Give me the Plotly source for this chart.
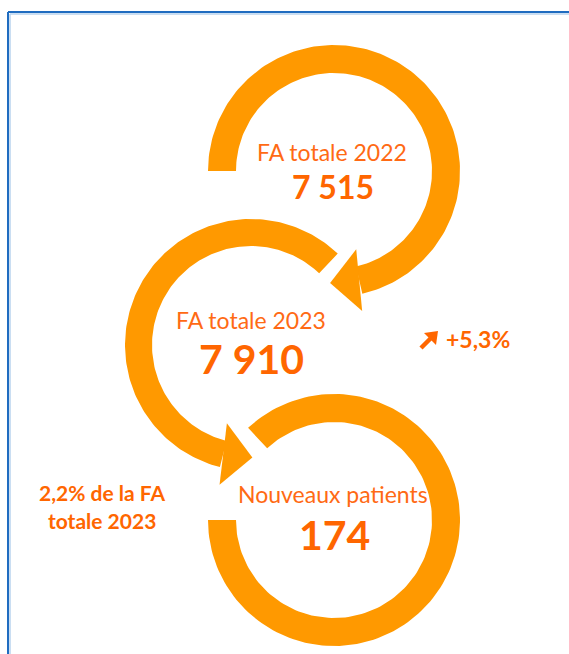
import numpy as np
import plotly.graph_objects as go

# ---- data ----
stage_labels = ["FA totale 2022", "FA totale 2023", "Nouveaux patients"]
stage_values = [7515, 7910, 174]
growth_label = "+5,3%"
share_label = ["2,2% de la FA", "totale 2023"]

ORANGE = "#FF9900"
TEXT = "#FF6A14"
TEXT_B = "#FF6600"
FONT = "Lato"

W, H = 569, 654


def fmt(v):
    return f"{v:,}".replace(",", " ")


def arc(cx, cy, r, a0, a1, n=160):
    t = np.radians(np.linspace(a0, a1, n))
    return cx + r * np.cos(t), cy + r * np.sin(t)


def ring_body(cx, cy, ro, ri, a0, a1):
    xo, yo = arc(cx, cy, ro, a0, a1)
    xi, yi = arc(cx, cy, ri, a1, a0)
    x = np.concatenate([xo, xi, xo[:1]])
    y = np.concatenate([yo, yi, yo[:1]])
    return x, y


def arrow_head(cx, cy, rm, ab, at, half):
    bx = cx + rm * np.cos(np.radians(ab))
    by = cy + rm * np.sin(np.radians(ab))
    tx = cx + rm * np.cos(np.radians(at))
    ty = cy + rm * np.sin(np.radians(at))
    dx, dy = tx - bx, ty - by
    L = np.hypot(dx, dy)
    px, py = -dy / L, dx / L
    x = [bx + half * px, tx, bx - half * px, bx + half * px]
    y = [by + half * py, ty, by - half * py, by + half * py]
    return x, y


# ring geometry (center x, center y, outer r, inner r, start angle, end angle, tip angle)
rings = [
    (334, 171, 126, 98, 180, 437, 452),
    (251, 345, 126, 99, -46.5, -255.7, -270.7),
    (334, 520, 126, 98, -133, 180, None),
]

fig = go.Figure()
for cx, cy, ro, ri, a0, a1, at in rings:
    x, y = ring_body(cx, cy, ro, ri, a0, a1)
    fig.add_trace(go.Scatter(x=x, y=y, fill="toself", fillcolor=ORANGE,
                             mode="lines", line=dict(width=0, color=ORANGE),
                             hoverinfo="skip", showlegend=False))
    if at is not None:
        rm = (ro + ri) / 2
        hx, hy = arrow_head(cx, cy, rm, a1, at, 31)
        fig.add_trace(go.Scatter(x=hx, y=hy, fill="toself", fillcolor=ORANGE,
                                 mode="lines", line=dict(width=0, color=ORANGE),
                                 hoverinfo="skip", showlegend=False))

# small "up" arrow icon next to the growth label
fig.add_trace(go.Scatter(x=[421, 432], y=[348, 337], mode="lines",
                         line=dict(color=TEXT_B, width=4.5),
                         hoverinfo="skip", showlegend=False))
fig.add_trace(go.Scatter(x=[438, 424, 436, 438], y=[331, 333, 345, 331], fill="toself",
                         fillcolor=TEXT_B, mode="lines", line=dict(width=0, color=TEXT_B),
                         hoverinfo="skip", showlegend=False))

ann = []
title_pos = [(332, 152), (251, 320), (333, 494)]
value_pos = [(333, 186), (251, 358), (334, 534)]
value_size = [32, 41, 41]
for lab, val, tp, vp, vs in zip(stage_labels, stage_values, title_pos, value_pos, value_size):
    ann.append(dict(x=tp[0], y=tp[1], text=lab, showarrow=False,
                    font=dict(family=FONT, size=23, color=TEXT),
                    xanchor="center", yanchor="middle"))
    ann.append(dict(x=vp[0], y=vp[1], text=f"<b>{fmt(val)}</b>", showarrow=False,
                    font=dict(family=FONT, size=vs, color=TEXT_B),
                    xanchor="center", yanchor="middle"))

ann.append(dict(x=478, y=339, text=f"<b>{growth_label}</b>", showarrow=False,
                font=dict(family=FONT, size=23, color=TEXT_B),
                xanchor="center", yanchor="middle"))
ann.append(dict(x=102, y=492, text=f"<b>{share_label[0]}</b>", showarrow=False,
                font=dict(family=FONT, size=21, color=TEXT_B),
                xanchor="center", yanchor="middle"))
ann.append(dict(x=102, y=520, text=f"<b>{share_label[1]}</b>", showarrow=False,
                font=dict(family=FONT, size=21, color=TEXT_B),
                xanchor="center", yanchor="middle"))

shapes = [
    dict(type="line", x0=8, y0=12, x1=W, y1=12, line=dict(color="#1F6CC0", width=2)),
    dict(type="line", x0=8, y0=12, x1=8, y1=H, line=dict(color="#1F6CC0", width=2)),
    dict(type="line", x0=10, y0=14, x1=W, y1=14, line=dict(color="#B9D3EE", width=1.5)),
    dict(type="line", x0=10, y0=14, x1=10, y1=H, line=dict(color="#B9D3EE", width=1.5)),
]

fig.update_layout(
    width=W, height=H, margin=dict(l=0, r=0, t=0, b=0),
    paper_bgcolor="white", plot_bgcolor="white",
    xaxis=dict(range=[0, W], visible=False, fixedrange=True),
    yaxis=dict(range=[H, 0], visible=False, fixedrange=True),
    annotations=ann, shapes=shapes, showlegend=False,
)

fig.write_html("out.html", config={"displayModeBar": False},
               post_script="document.body.style.margin='0';document.body.style.overflow='hidden';")
